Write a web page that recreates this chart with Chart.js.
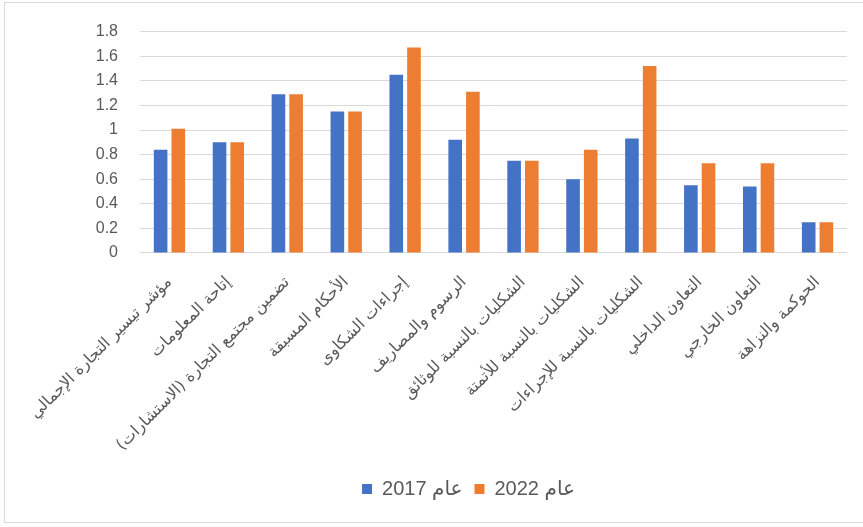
<!DOCTYPE html>
<html>
<head>
<meta charset="utf-8">
<script src="https://cdn.jsdelivr.net/npm/chart.js@4/dist/chart.umd.min.js"></script>
<style>
    body { margin: 0; background: #fff; }
    #frame { position: absolute; left: 4px; top: 2px; width: 900px; height: 519px; border: 1px solid #d9d9d9; }
    #wrap { position: absolute; left: 0; top: 0; width: 863px; height: 527px; }
</style>
</head>
<body>
<div id="frame"></div>
<div id="wrap"><canvas id="chart" width="863" height="527"></canvas></div>
<script>
// categories (trade facilitation indicators)
const categories = [
    'مؤشر تيسير التجارة الإجمالي',
    'إتاحة المعلومات',
    'تضمين مجتمع التجارة (الاستشارات)',
    'الأحكام المسبقة',
    'إجراءات الشكاوى',
    'الرسوم والمصاريف',
    'الشكليات بالنسبة للوثائق',
    'الشكليات بالنسبة للأتمتة',
    'الشكليات بالنسبة للإجراءات',
    'التعاون الداخلي',
    'التعاون الخارجي',
    'الحوكمة والنزاهة'
];

// series values
const values2017 = [0.84, 0.90, 1.29, 1.15, 1.45, 0.92, 0.75, 0.60, 0.93, 0.55, 0.54, 0.25];
const values2022 = [1.01, 0.90, 1.29, 1.15, 1.67, 1.31, 0.75, 0.84, 1.52, 0.73, 0.73, 0.25];

const seriesLabels = ['عام 2017', 'عام 2022'];
const yTicks = [0, 0.2, 0.4, 0.6, 0.8, 1, 1.2, 1.4, 1.6, 1.8];

const textColor = '#595959';

new Chart(document.getElementById('chart'), {
    type: 'bar',
    data: {
        labels: categories,
        datasets: [{
            label: seriesLabels[0],
            data: values2017,
            backgroundColor: '#4472C4'
        }, {
            label: seriesLabels[1],
            data: values2022,
            backgroundColor: '#ED7D31'
        }]
    },
    options: {
        responsive: false,
        animation: false,
        categoryPercentage: 0.6,
        barPercentage: 0.77,
        layout: { padding: { left: 90, right: 16, top: 29, bottom: 18 } },
        plugins: {
            tooltip: { enabled: false },
            legend: {
                position: 'bottom',
                labels: {
                    color: textColor,
                    boxWidth: 10,
                    boxHeight: 10,
                    padding: 12,
                    font: { family: "'Liberation Sans', 'DejaVu Sans', sans-serif", size: 20 }
                }
            }
        },
        scales: {
            x: {
                grid: { display: false },
                border: { display: false },
                ticks: {
                    color: textColor,
                    autoSkip: false,
                    maxRotation: 45,
                    minRotation: 45,
                    padding: 12,
                    font: { family: "'DejaVu Sans', sans-serif", size: 16 }
                },
                afterFit: function (scale) { scale.height = 214; }
            },
            y: {
                min: yTicks[0],
                max: yTicks[yTicks.length - 1],
                grid: { color: '#d9d9d9', drawTicks: false },
                border: { display: false },
                ticks: {
                    stepSize: 0.2,
                    color: textColor,
                    padding: 22,
                    font: { family: "'Liberation Sans', sans-serif", size: 16 },
                    callback: function (v) { return String(Number(v.toFixed(1))); }
                },
                afterFit: function (scale) { scale.width = 50; }
            }
        }
    }
});
</script>
</body>
</html>
